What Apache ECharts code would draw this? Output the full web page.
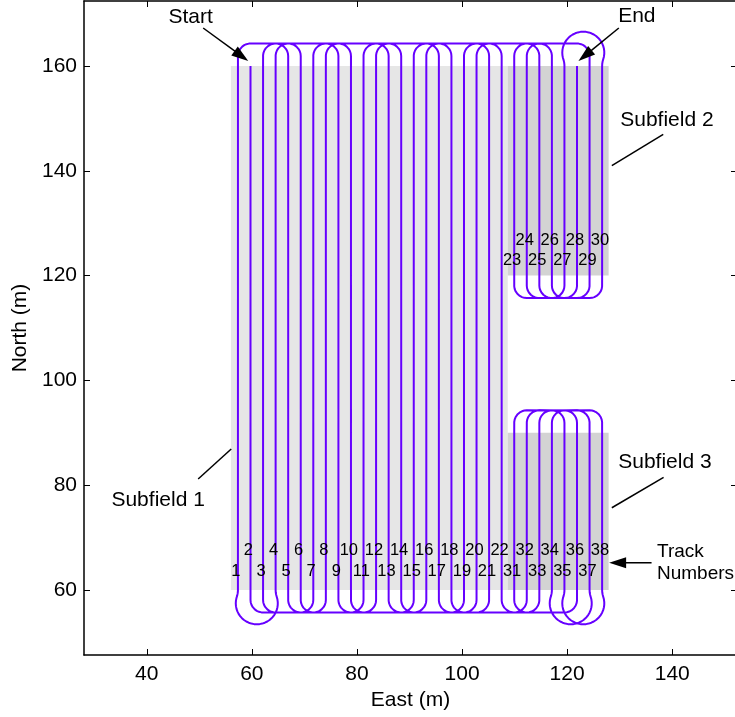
<!DOCTYPE html>
<html>
<head>
<meta charset="utf-8">
<title>Field coverage route</title>
<script src="https://cdn.jsdelivr.net/npm/echarts@6/dist/echarts.min.js"></script>
<style>
  html, body { margin: 0; padding: 0; background: #ffffff; }
  #chart { width: 735px; height: 717px; }
</style>
</head>
<body>
<div id="chart"></div>
<script>
// ---- Field data (metres) ----------------------------------------------
// Track numbers 1..38; tracks 1-22 lie in subfield 1, 23-30 in subfield 2, 31-38 in subfield 3
const trackNumbers = [
  1, 2, 3, 4, 5, 6, 7, 8, 9, 10, 11, 12, 13, 14, 15, 16, 17, 18, 19, 20, 21, 22,
  23, 24, 25, 26, 27, 28, 29, 30,
  31, 32, 33, 34, 35, 36, 37, 38
];
const trackEast = [
  57.35, 59.74, 62.13, 64.52, 66.91, 69.30, 71.69, 74.08, 76.47, 78.86, 81.25,
  83.64, 86.03, 88.42, 90.81, 93.20, 95.59, 97.98, 100.37, 102.76, 105.15, 107.54,
  109.93, 112.32, 114.71, 117.10, 119.49, 121.88, 124.27, 126.66,
  109.93, 112.32, 114.71, 117.10, 119.49, 121.88, 124.27, 126.66
];
const trackSouth = [
  60, 60, 60, 60, 60, 60, 60, 60, 60, 60, 60, 60, 60, 60, 60, 60, 60, 60, 60, 60, 60, 60,
  120, 120, 120, 120, 120, 120, 120, 120,
  60, 60, 60, 60, 60, 60, 60, 60
];
const trackNorth = [
  160, 160, 160, 160, 160, 160, 160, 160, 160, 160, 160, 160, 160, 160, 160, 160, 160, 160, 160, 160, 160, 160,
  160, 160, 160, 160, 160, 160, 160, 160,
  90, 90, 90, 90, 90, 90, 90, 90
];
// Northing of each track's number label (two staggered rows)
const labelNorth = [
  63.5, 67.6, 63.5, 67.6, 63.5, 67.6, 63.5, 67.6, 63.5, 67.6, 63.5,
  67.6, 63.5, 67.6, 63.5, 67.6, 63.5, 67.6, 63.5, 67.6, 63.5, 67.6,
  122.8, 126.8, 122.8, 126.8, 122.8, 126.8, 122.8, 126.8,
  63.5, 67.6, 63.5, 67.6, 63.5, 67.6, 63.5, 67.6
];
// Driving order: starts southward on track 2, finishes northward on track 28
const visitOrder = [
  2, 21, 19, 17, 15, 13, 11, 9, 7, 5, 3,
  33, 37, 34, 38, 35, 31, 36, 32,
  22, 20, 18, 16, 14, 12, 10, 8, 6, 4, 1,
  26, 30, 27, 23, 25, 29, 24, 28
];
// Track pairs joined by a bulb (loop) turn instead of a U-turn
const bulbTurns = [[1, 4], [34, 37], [35, 38], [27, 30]];
// Subfield outlines
const subfieldNames = ['Subfield 1', 'Subfield 2', 'Subfield 3'];
const subfieldWest  = [56.0, 108.7, 108.7];
const subfieldEast  = [108.7, 127.9, 127.9];
const subfieldSouth = [60, 120, 60];
const subfieldNorth = [160, 160, 90];
// Axis ticks
const eastTicks  = [40, 60, 80, 100, 120, 140];
const northTicks = [60, 80, 100, 120, 140, 160];
// Turn shapes (m): loop radius of bulb turns; headland run and corner radius of U-turns
const bulbRadius = 4.0;
const headlandRun = 1.9;
const cornerRadius = 2.39;

// ---- Route geometry: straight tracks joined by headland turns ---------
function dirAngle(dx, dy) { return Math.atan2(dy, dx); }
function pushArc(pts, cx, cy, r, a0, sweep) {
  const n = Math.max(6, Math.ceil(Math.abs(sweep) / (Math.PI / 48)));
  for (let j = 0; j <= n; j++) {
    const a = a0 + sweep * j / n;
    pts.push([cx + r * Math.cos(a), cy + r * Math.sin(a)]);
  }
}
function shortSweep(a0, a1) {
  let d = a1 - a0;
  while (d > Math.PI) d -= 2 * Math.PI;
  while (d <= -Math.PI) d += 2 * Math.PI;
  return d;
}
function mod2pi(a) { const t = 2 * Math.PI; return ((a % t) + t) % t; }
function isBulb(t1, t2) {
  return bulbTurns.some(p => (p[0] === t1 && p[1] === t2) || (p[0] === t2 && p[1] === t1));
}

function addTurn(pts, x1, x2, y0, out, bulb) {
  const dx = x2 - x1, s = Math.sign(dx), d = Math.abs(dx);
  if (!bulb) {
    // U-turn: run into the headland, round corner, across, round corner, back
    const r = Math.min(cornerRadius, d / 2), yc = y0 + out * headlandRun;
    pts.push([x1, yc]);
    let a0 = dirAngle(-s, 0), a1 = dirAngle(0, out);
    pushArc(pts, x1 + s * r, yc, r, a0, shortSweep(a0, a1));
    a0 = dirAngle(0, out); a1 = dirAngle(s, 0);
    pushArc(pts, x2 - s * r, yc, r, a0, shortSweep(a0, a1));
  } else {
    // Bulb turn: swing out, loop round, swing back onto the next track
    const r = bulbRadius;
    const a = d / 2 + r;
    const h = Math.sqrt(4 * r * r - a * a);
    const xm = (x1 + x2) / 2;
    let b0 = dirAngle(s, 0), b1 = dirAngle(s * a, out * h);
    pushArc(pts, x1 - s * r, y0, r, b0, shortSweep(b0, b1));
    const c0 = dirAngle(-s * a, -out * h), c1 = dirAngle(s * a, -out * h), mid = dirAngle(0, out);
    let sw = mod2pi(c1 - c0);
    if (!(mod2pi(mid - c0) < sw)) sw = sw - 2 * Math.PI;
    pushArc(pts, xm, y0 + out * h, r, c0, sw);
    b0 = dirAngle(-s * a, out * h); b1 = dirAngle(-s, 0);
    pushArc(pts, x2 + s * r, y0, r, b0, shortSweep(b0, b1));
  }
}

function buildRoute() {
  const pts = [];
  let prev = null;
  visitOrder.forEach((t, k) => {
    const i = trackNumbers.indexOf(t);
    const x = trackEast[i];
    const southward = k % 2 === 0;
    const yStart = southward ? trackNorth[i] : trackSouth[i];
    const yEnd = southward ? trackSouth[i] : trackNorth[i];
    if (prev) addTurn(pts, prev.x, x, yStart, prev.out, isBulb(prev.t, t));
    pts.push([x, yStart]);
    pts.push([x, yEnd]);
    prev = { t: t, x: x, out: southward ? -1 : 1 };
  });
  return pts;
}

const routePoints = buildRoute();
const fieldRects = subfieldNames.map((n, i) =>
  [subfieldWest[i], subfieldEast[i], subfieldSouth[i], subfieldNorth[i], i === 0 ? 0 : 1]);
const labelData = trackNumbers.map((t, i) => [trackEast[i] - 0.4, labelNorth[i], t]);

// ---- Chart -------------------------------------------------------------
const FONT = '"Liberation Sans", Arial, Helvetica, sans-serif';
const X_MIN = 28.05, X_MAX = 152.33, Y_MIN = 47.6, Y_MAX = 172.4;
const fieldFill = ['#e6e6e6', '#d3d3d3'];
const routeColor = '#6600ff';

const frameAxis = {
  axisLine: { show: true, lineStyle: { color: '#000', width: 1.5 } },
  splitLine: { show: false },
  minorTick: { show: false }
};

const chart = echarts.init(document.getElementById('chart'), null, { renderer: 'canvas' });
chart.setOption({
  animation: false,
  backgroundColor: '#ffffff',
  grid: {
    left: 84, right: -2, top: 1, bottom: 62,
    containLabel: false, outerBoundsMode: 'none',
    show: false
  },
  xAxis: [
    Object.assign({}, frameAxis, {
      type: 'value', position: 'bottom', min: X_MIN, max: X_MAX,
      name: 'East (m)', nameLocation: 'middle', nameGap: 31,
      nameTextStyle: { color: '#000', fontSize: 21, fontFamily: FONT },
      axisTick: { show: true, inside: true, length: 6, customValues: eastTicks,
                  lineStyle: { color: '#000', width: 1 } },
      axisLabel: { show: true, customValues: eastTicks, margin: 9, color: '#000',
                   fontSize: 21, fontFamily: FONT }
    }),
    Object.assign({}, frameAxis, {
      type: 'value', position: 'top', min: X_MIN, max: X_MAX,
      axisTick: { show: true, inside: true, length: 6, customValues: eastTicks,
                  lineStyle: { color: '#000', width: 1 } },
      axisLabel: { show: false }
    })
  ],
  yAxis: [
    Object.assign({}, frameAxis, {
      type: 'value', position: 'left', min: Y_MIN, max: Y_MAX,
      name: 'North (m)', nameLocation: 'middle', nameGap: 47, nameRotate: 90,
      nameTextStyle: { color: '#000', fontSize: 21, fontFamily: FONT },
      axisTick: { show: true, inside: true, length: 6, customValues: northTicks,
                  lineStyle: { color: '#000', width: 1 } },
      axisLabel: { show: true, customValues: northTicks, margin: 7, color: '#000',
                   fontSize: 21, fontFamily: FONT }
    }),
    Object.assign({}, frameAxis, {
      type: 'value', position: 'right', min: Y_MIN, max: Y_MAX,
      axisTick: { show: true, inside: true, length: 6, customValues: northTicks,
                  lineStyle: { color: '#000', width: 1 } },
      axisLabel: { show: false }
    })
  ],
  series: [
    {
      name: 'Subfields', type: 'custom', z: 1, silent: true,
      xAxisIndex: 0, yAxisIndex: 0,
      encode: { x: [0, 1], y: [2, 3] },
      data: fieldRects,
      renderItem: function (params, api) {
        const p0 = api.coord([api.value(0), api.value(3)]);
        const p1 = api.coord([api.value(1), api.value(2)]);
        return {
          type: 'rect',
          shape: { x: p0[0], y: p0[1], width: p1[0] - p0[0], height: p1[1] - p0[1] },
          style: { fill: fieldFill[api.value(4)] }
        };
      }
    },
    {
      name: 'Route', type: 'line', z: 3, silent: true,
      xAxisIndex: 0, yAxisIndex: 0,
      data: routePoints,
      symbol: 'none', showSymbol: false, smooth: false,
      lineStyle: { color: routeColor, width: 2 }
    },
    {
      name: 'Track numbers', type: 'custom', z: 4, silent: true,
      xAxisIndex: 0, yAxisIndex: 0,
      encode: { x: 0, y: 1 },
      data: labelData,
      renderItem: function (params, api) {
        const p = api.coord([api.value(0), api.value(1)]);
        return {
          type: 'text', x: p[0], y: p[1],
          style: {
            text: String(api.value(2)), fill: '#000',
            fontSize: 16.5, fontFamily: FONT,
            align: 'center', verticalAlign: 'middle'
          }
        };
      }
    }
  ]
});

// ---- Annotations (anchored in field coordinates) ------------------------
const annotationTexts = [
  { text: 'Start', at: [48.35, 169.35], align: 'center', size: 21 },
  { text: 'End', at: [133.27, 169.54], align: 'center', size: 21 },
  { text: 'Subfield 2', at: [138.99, 149.56], align: 'center', size: 21 },
  { text: 'Subfield 3', at: [138.61, 84.48], align: 'center', size: 21 },
  { text: 'Subfield 1', at: [42.16, 77.17], align: 'center', size: 21 },
  { text: 'Track', at: [137.1, 67.30], align: 'left', size: 19 },
  { text: 'Numbers', at: [137.1, 63.18], align: 'left', size: 19 }
];
const annotationLines = [
  { from: [50.73, 167.25], to: [59.31, 160.95], head: true },
  { from: [129.84, 167.25], to: [122.16, 160.95], head: true },
  { from: [136.07, 65.2], to: [127.99, 65.2], head: true },
  { from: [138.29, 146.96], to: [128.51, 140.97], head: false },
  { from: [138.36, 81.50], to: [128.51, 75.70], head: false },
  { from: [49.78, 81.18], to: [56.07, 86.90], head: false }
];

function px(p) { return chart.convertToPixel({ gridIndex: 0 }, p); }
const elements = [];
annotationTexts.forEach(a => {
  const p = px(a.at);
  elements.push({
    type: 'text', x: p[0], y: p[1], z: 10,
    style: { text: a.text, fill: '#000', fontSize: a.size, fontFamily: FONT,
             align: a.align, verticalAlign: 'middle' }
  });
});
annotationLines.forEach(l => {
  const a = px(l.from), b = px(l.to);
  const ux = b[0] - a[0], uy = b[1] - a[1];
  const len = Math.hypot(ux, uy), ex = ux / len, ey = uy / len;
  const headLen = 17, headHalf = 5.5;
  const lineEnd = l.head ? [b[0] - ex * headLen * 0.8, b[1] - ey * headLen * 0.8] : b;
  elements.push({
    type: 'line', z: 10,
    shape: { x1: a[0], y1: a[1], x2: lineEnd[0], y2: lineEnd[1] },
    style: { stroke: '#000', lineWidth: 1.5 }
  });
  if (l.head) {
    const bx = b[0] - ex * headLen, by = b[1] - ey * headLen;
    elements.push({
      type: 'polygon', z: 10,
      shape: { points: [[b[0], b[1]],
                        [bx - ey * headHalf, by + ex * headHalf],
                        [bx + ey * headHalf, by - ex * headHalf]] },
      style: { fill: '#000' }
    });
  }
});
chart.setOption({ graphic: { elements: elements } });
</script>
</body>
</html>
